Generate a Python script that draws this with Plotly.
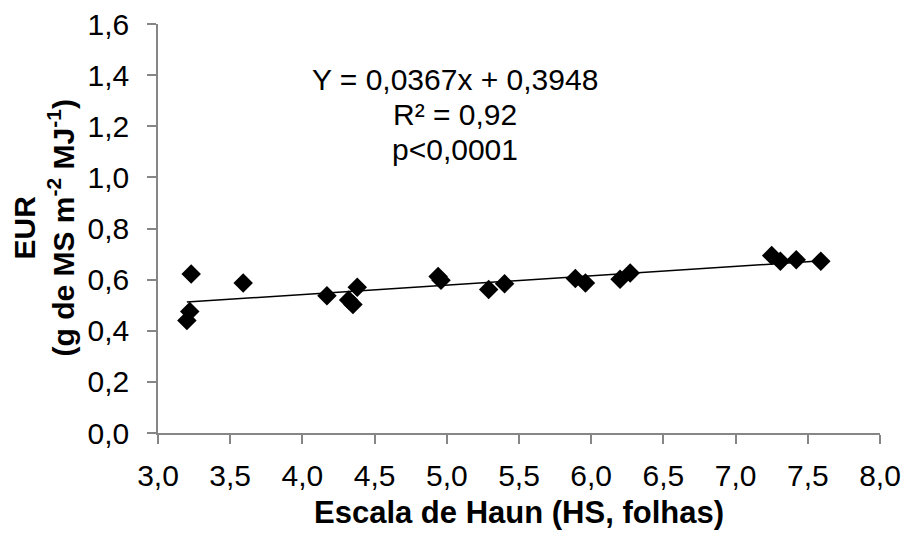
import plotly.graph_objects as go

# Observed data (Haun stage vs EUR)
hs = [3.20, 3.22, 3.23, 3.59, 4.17, 4.32, 4.35, 4.38, 4.94, 4.96,
      5.29, 5.40, 5.89, 5.96, 6.20, 6.27, 7.25, 7.31, 7.42, 7.59]
eur = [0.44, 0.475, 0.622, 0.587, 0.537, 0.52, 0.503, 0.57, 0.612, 0.598,
       0.561, 0.584, 0.604, 0.587, 0.601, 0.626, 0.694, 0.672, 0.678, 0.672]

# Trend line endpoints
trend_x = [3.20, 7.60]
trend_y = [0.512, 0.674]

x_ticks = [3.0, 3.5, 4.0, 4.5, 5.0, 5.5, 6.0, 6.5, 7.0, 7.5, 8.0]
y_ticks = [0.0, 0.2, 0.4, 0.6, 0.8, 1.0, 1.2, 1.4, 1.6]

eq_lines = ["Y = 0,0367x + 0,3948", "R² = 0,92", "p<0,0001"]

FONT = "Liberation Sans"
W, H = 905, 533
L, R, T, B = 158, 25, 24, 100
PW, PH = W - L - R, H - T - B


def px_x(px):
    return (px - L) / PW


def px_y(py):
    return (H - B - py) / PH


fig = go.Figure()
fig.add_trace(go.Scatter(
    x=trend_x, y=trend_y, mode="lines",
    line=dict(color="black", width=1.5), hoverinfo="skip", showlegend=False))
fig.add_trace(go.Scatter(
    x=hs, y=eur, mode="markers",
    marker=dict(symbol="diamond", size=15, color="black"),
    showlegend=False))

for txt, py in zip(eq_lines, [79, 115, 149]):
    fig.add_annotation(
        x=px_x(455), y=px_y(py), xref="paper", yref="paper",
        xanchor="center", yanchor="middle",
        text=txt, showarrow=False,
        font=dict(family=FONT, size=30, color="black"))

# Y axis title (two lines, rotated)
fig.add_annotation(
    x=px_x(43), y=0.5, xref="paper", yref="paper",
    xanchor="center", yanchor="middle", textangle=-90,
    text="<b>EUR<br>(g de MS m<sup>-2</sup> MJ<sup>-1</sup>)</b>",
    showarrow=False, font=dict(family=FONT, size=30, color="black"))

# X axis title
fig.add_annotation(
    x=0.5, y=px_y(512), xref="paper", yref="paper",
    xanchor="center", yanchor="middle",
    text="<b>Escala de Haun (HS, folhas)</b>",
    showarrow=False, font=dict(family=FONT, size=31, color="black"))

fig.update_layout(
    width=W, height=H,
    margin=dict(l=L, r=R, t=T, b=B, autoexpand=False),
    paper_bgcolor="white", plot_bgcolor="white",
    font=dict(family=FONT, color="black"),
)
fig.update_xaxes(
    range=[3.0, 8.0], tickvals=x_ticks,
    ticktext=[f"{v:.1f}".replace(".", ",") for v in x_ticks],
    showgrid=False, zeroline=False, showline=True, linecolor="#868686", linewidth=1.5,
    ticks="outside", ticklen=9, tickcolor="#868686", tickwidth=1.5,
    ticklabelstandoff=6, automargin=False,
    tickfont=dict(family=FONT, size=30, color="black"),
)
fig.update_yaxes(
    range=[0.0, 1.6], tickvals=y_ticks,
    ticktext=[f"{v:.1f}".replace(".", ",") for v in y_ticks],
    showgrid=False, zeroline=False, showline=True, linecolor="#868686", linewidth=1.5,
    ticks="outside", ticklen=9, tickcolor="#868686", tickwidth=1.5,
    ticklabelstandoff=12, automargin=False,
    tickfont=dict(family=FONT, size=30, color="black"),
)

fig.write_html("out.html")
